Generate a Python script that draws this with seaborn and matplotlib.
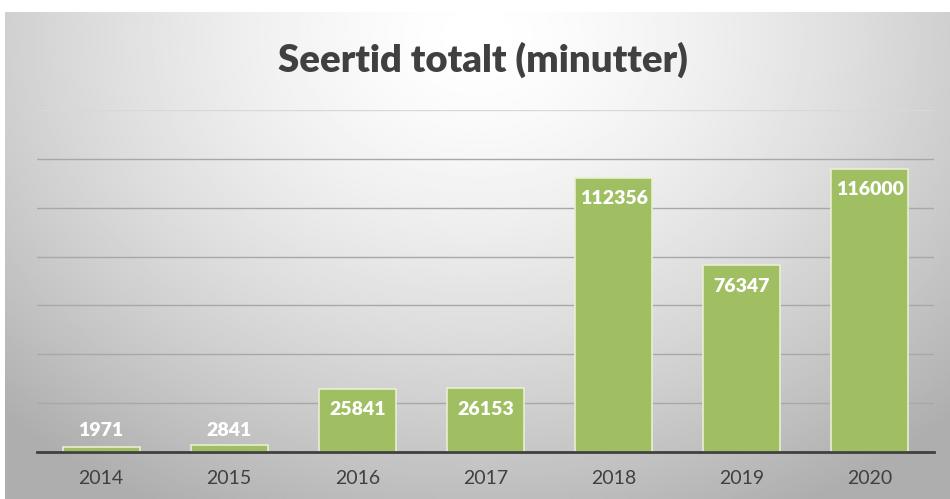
import numpy as np
import pandas as pd
import matplotlib
matplotlib.use('Agg')
import matplotlib.pyplot as plt
import seaborn as sns

# ── Data ─────────────────────────────────────────────────────────────────────
years = ['2014', '2015', '2016', '2017', '2018', '2019', '2020']
minutes = [1971, 2841, 25841, 26153, 112356, 76347, 116000]
y_ticks = [0, 20000, 40000, 60000, 80000, 100000, 120000, 140000]

TITLE = 'Seertid totalt (minutter)'
BAR_COLOR = '#9FBF62'
TEXT_COLOR = '#404040'

sns.set_theme(style='white')
plt.rcParams['font.family'] = ['Lato', 'DejaVu Sans']

df = pd.DataFrame({'year': years, 'minutes': minutes})

fig = plt.figure(figsize=(9.5, 4.99), dpi=100)
fig.patch.set_facecolor('white')

# background: radial grey gradient like the Excel chart area
bg = fig.add_axes([5 / 950, 0, 945 / 950, 487 / 499], zorder=0)
yy, xx = np.mgrid[0:1:300j, 0:1:600j]
r = np.sqrt(((xx - 0.5) / 0.72) ** 2 + ((yy - 0.05) / 1.1) ** 2)
shade = 1.0 - 0.32 * np.clip(r, 0, 1) ** 1.5
bg.imshow(shade, cmap='gray', vmin=0, vmax=1, aspect='auto',
          extent=[0, 1, 1, 0], interpolation='bilinear')
bg.set_axis_off()

ax = fig.add_axes([37 / 950, (499 - 452) / 499, 897 / 950, 342 / 499], zorder=1)
ax.patch.set_alpha(0)

sns.barplot(data=df, x='year', y='minutes', color=BAR_COLOR, width=0.6,
            edgecolor='#e6f0d0', linewidth=1.2, saturation=1, ax=ax, zorder=3)

ax.set_ylim(0, 140000)
ax.set_yticks(y_ticks)
ax.yaxis.grid(True, color='#a8a8a8', linewidth=1.0, zorder=0)
ax.get_ygridlines()[-1].set_color('#d8d8d8')
ax.set_axisbelow(True)
ax.tick_params(axis='y', left=False, labelleft=False)
ax.tick_params(axis='x', bottom=False, labelsize=14, labelcolor=TEXT_COLOR, pad=7)
ax.set_xlabel('')
ax.set_ylabel('')
for side in ('top', 'right', 'left'):
    ax.spines[side].set_visible(False)
ax.spines['bottom'].set_color('#404040')
ax.spines['bottom'].set_linewidth(2.0)
ax.spines['bottom'].set_zorder(5)

# value labels inside bar tops (pushed above small bars)
for i, v in enumerate(minutes):
    ypos = max(v - 8600, 9000)
    ax.text(i, ypos, f'{v}', ha='center', va='center', color='white',
            fontsize=14, fontweight='heavy', zorder=6)

fig.text(483 / 950, 1 - 60 / 499, TITLE, ha='center', va='center',
         fontsize=27.5, fontweight='heavy', color=TEXT_COLOR)

fig.savefig('out.png', dpi=100)
